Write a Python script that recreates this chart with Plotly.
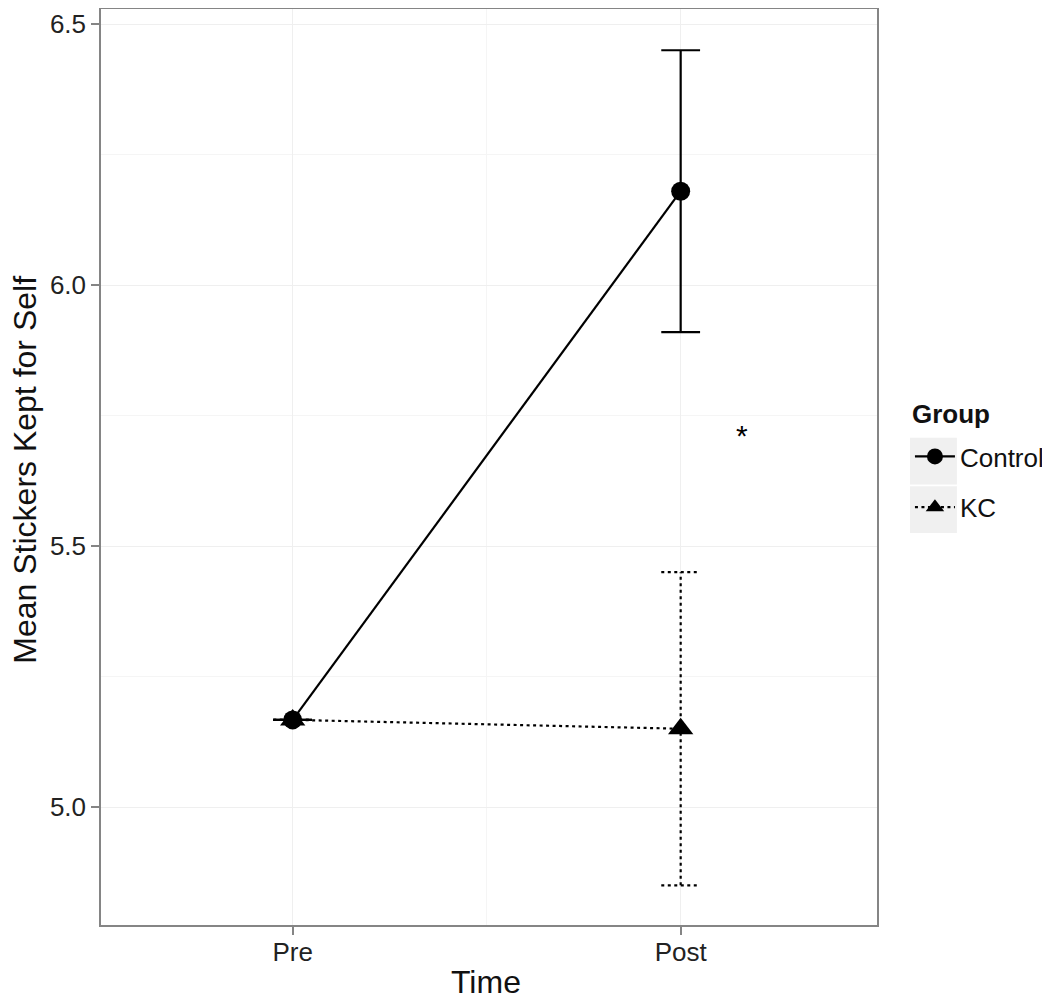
import plotly.graph_objects as go

# ---- data ----
time_labels = ["Pre", "Post"]
time_pos = [0, 1]
control_mean = [5.167, 6.18]
control_se = [0.0, 0.27]
kc_mean = [5.167, 5.15]
kc_se = [0.0, 0.30]
sig_label = "*"
sig_x = 1.157
sig_y = 5.717
y_ticks = [5.0, 5.5, 6.0, 6.5]
y_minor = [5.25, 5.75, 6.25]

FONT = "Liberation Sans, Arial, Helvetica, sans-serif"
CAP = 0.05
DOT = "3px,3.5px"


def errorbar_xy(xs, means, ses, w):
    ex, ey = [], []
    for x, m, s in zip(xs, means, ses):
        ex += [x, x, None, x - w, x + w, None, x - w, x + w, None]
        ey += [m - s, m + s, None, m + s, m + s, None, m - s, m - s, None]
    return ex, ey


fig = go.Figure()

cex, cey = errorbar_xy(time_pos, control_mean, control_se, CAP)
kex, key = errorbar_xy(time_pos, kc_mean, kc_se, CAP)

fig.add_trace(go.Scatter(x=kex, y=key, mode="lines", showlegend=False, hoverinfo="skip",
                         line=dict(color="black", width=2.2, dash=DOT)))
fig.add_trace(go.Scatter(x=cex, y=cey, mode="lines", showlegend=False, hoverinfo="skip",
                         line=dict(color="black", width=2.2)))

fig.add_trace(go.Scatter(x=time_pos, y=control_mean, mode="lines+markers", name="Control",
                         legendgroup="control",
                         line=dict(color="black", width=2.2),
                         marker=dict(symbol="circle", size=19, color="black")))
fig.add_trace(go.Scatter(x=time_pos, y=kc_mean, mode="lines+markers", name="KC",
                         legendgroup="kc",
                         line=dict(color="black", width=2.2, dash=DOT),
                         marker=dict(symbol="triangle-up", size=22, color="black")))

fig.add_annotation(x=sig_x, y=sig_y, text=sig_label, showarrow=False, yshift=-3,
                   font=dict(size=30, color="black", family=FONT))

# axis titles
fig.add_annotation(xref="paper", yref="paper", x=-0.098, y=0.497, text="Mean Stickers Kept for Self",
                   textangle=-90, showarrow=False, xanchor="center", yanchor="middle",
                   font=dict(size=32, color="#111", family=FONT))
fig.add_annotation(xref="paper", yref="paper", x=0.496, y=-0.062, text="Time",
                   showarrow=False, xanchor="center", yanchor="middle",
                   font=dict(size=32, color="#111", family=FONT))
# legend title
fig.add_annotation(xref="paper", yref="paper", x=1.0425, y=0.558, text="<b>Group</b>",
                   showarrow=False, xanchor="left", yanchor="middle",
                   font=dict(size=26, color="#111", family=FONT))

# grey legend key backgrounds (ggplot style)
for y0, y1 in [(0.481, 0.532), (0.428, 0.479)]:
    fig.add_shape(type="rect", xref="paper", yref="paper",
                  x0=1.0425, x1=1.103, y0=y0, y1=y1,
                  fillcolor="#f0f0f0", line=dict(width=0), layer="below")

axis_common = dict(
    showgrid=True, gridcolor="#efefef", gridwidth=1,
    zeroline=False, automargin=False,
    showline=True, mirror=True, linecolor="#858585", linewidth=1.5,
    ticks="outside", ticklen=8, tickcolor="#858585", tickwidth=1.5,
    tickfont=dict(size=26, color="#222"),
)

# the page body adds an 8px offset; margins compensate for it
fig.update_layout(
    width=1050, height=1000,
    margin=dict(l=93, r=181, t=1, b=83),
    paper_bgcolor="white", plot_bgcolor="white",
    font=dict(family=FONT, color="#222222", size=26),
    showlegend=True,
    legend=dict(
        xref="container", yref="container",
        x=0.859, y=0.575, xanchor="left", yanchor="top",
        font=dict(size=26, color="#111"),
        traceorder="grouped",
        tracegroupgap=14,
        itemwidth=40,
        bgcolor="rgba(0,0,0,0)",
    ),
    xaxis=dict(
        range=[-0.494, 1.506],
        tickvals=time_pos, ticktext=time_labels,
        minor=dict(tickvals=[0.5], showgrid=True, gridcolor="#f5f5f5", ticks=""),
        ticklabelstandoff=-5,
        **axis_common,
    ),
    yaxis=dict(
        range=[4.774, 6.529],
        tickvals=y_ticks, ticktext=[f"{v:.1f}" for v in y_ticks],
        minor=dict(tickvals=y_minor, showgrid=True, gridcolor="#f5f5f5", ticks=""),
        **axis_common,
    ),
)

fig.write_html("out.html")
